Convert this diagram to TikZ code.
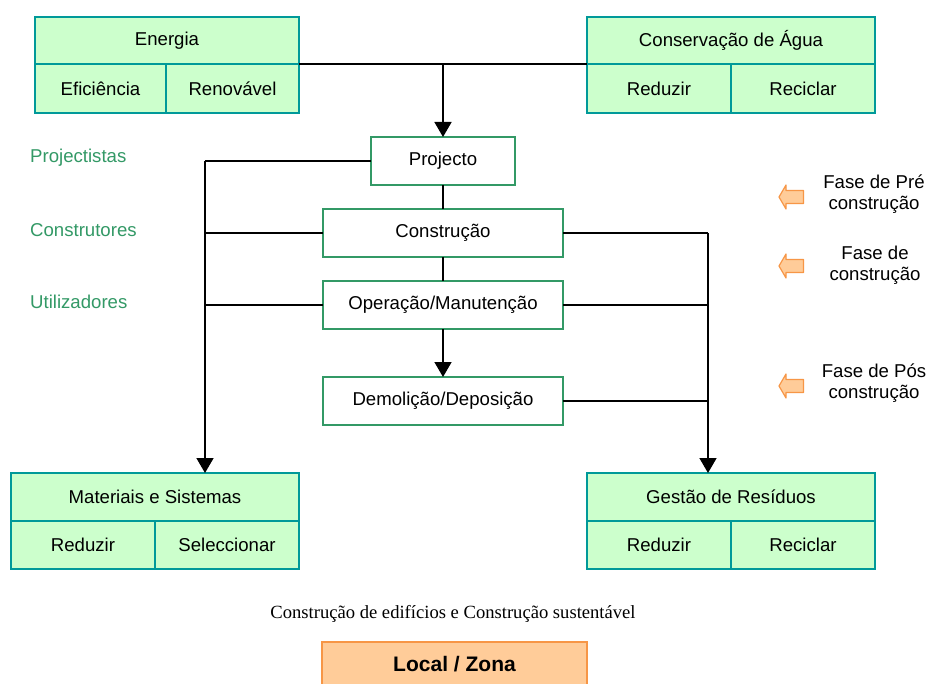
\documentclass[tikz,border=0pt]{standalone}
\usepackage{fontspec}
\setmainfont{Liberation Sans}
\newfontfamily\captionserif{Liberation Serif}
\usetikzlibrary{arrows.meta}
\definecolor{mint}{RGB}{204,255,204}
\definecolor{tealborder}{RGB}{0,153,153}
\definecolor{seagreen}{RGB}{51,153,102}
\definecolor{peach}{RGB}{255,204,153}
\definecolor{orangeline}{RGB}{247,150,70}
\tikzset{
  cell/.style={draw=tealborder, fill=mint, line width=1.6pt, inner sep=0pt, outer sep=0pt,
    font=\fontsize{18.6}{22}\selectfont},
  stage/.style={draw=seagreen, fill=white, line width=1.6pt, inner sep=0pt, outer sep=0pt,
    minimum height=48pt, font=\fontsize{18.6}{22}\selectfont},
  actor/.style={text=seagreen, anchor=west, inner sep=0pt, font=\fontsize{18.6}{22}\selectfont},
  phase/.style={align=center, inner sep=0pt, font=\fontsize{18.6}{21.5}\selectfont},
  link/.style={line width=1.6pt, black},
  flow/.style={link, -{Triangle[width=17pt,length=15pt]}},
  phasearrow/.style={draw=orangeline, fill=peach, line width=1.2pt, line join=round}
}
\begin{document}
\begin{tikzpicture}[x=1pt,y=-1pt]
\clip (0,0) rectangle (928,684);
\fill[white] (0,0) rectangle (928,684);

% Energia
\node[cell, minimum width=264pt, minimum height=47pt] (energia) at (167,40.5) {Energia};
\node[cell, minimum width=131pt, minimum height=49pt] (energiaL) at (100.5,88.5) {Eficiência};
\node[cell, minimum width=133pt, minimum height=49pt] (energiaR) at (232.5,88.5) {Renovável};

% Conservação de Água
\node[cell, minimum width=288pt, minimum height=47pt] (agua) at (731,40.5) {Conservação de Água};
\node[cell, minimum width=144pt, minimum height=49pt] (aguaL) at (659,88.5) {Reduzir};
\node[cell, minimum width=144pt, minimum height=49pt] (aguaR) at (803,88.5) {Reciclar};

% Materiais e Sistemas
\node[cell, minimum width=288pt, minimum height=48pt] (mat) at (155,497) {Materiais e Sistemas};
\node[cell, minimum width=144pt, minimum height=48pt] (matL) at (83,545) {Reduzir};
\node[cell, minimum width=144pt, minimum height=48pt] (matR) at (227,545) {Seleccionar};

% Gestão de Resíduos
\node[cell, minimum width=288pt, minimum height=48pt] (gest) at (731,497) {Gestão de Resíduos};
\node[cell, minimum width=144pt, minimum height=48pt] (gestL) at (659,545) {Reduzir};
\node[cell, minimum width=144pt, minimum height=48pt] (gestR) at (803,545) {Reciclar};

% Life-cycle stages
\node[stage, minimum width=144pt] (proj) at (443,161) {Projecto};
\node[stage, minimum width=240pt] (constr) at (443,233) {Construção};
\node[stage, minimum width=240pt] (oper) at (443,305) {Operação/Manutenção};
\node[stage, minimum width=240pt] (demol) at (443,401) {Demolição/Deposição};

% Actors
\node[actor] (a1) at (30,158) {Projectistas};
\node[actor] (a2) at (30,230) {Construtores};
\node[actor] (a3) at (30,302) {Utilizadores};

% Junctions
\coordinate (top) at (443,64);
\coordinate (lbus) at (205,161);
\coordinate (rbus) at (708,233);

% Connectors
\draw[link] (energiaR.north east) -- (aguaL.north west);
\draw[flow] (top) -- (proj.north);
\draw[link] (proj.south) -- (constr.north);
\draw[link] (constr.south) -- (oper.north);
\draw[flow] (oper.south) -- (demol.north);

\draw[link] (proj.west) -- (lbus);
\draw[flow] (lbus) -- (lbus |- mat.north);
\draw[link] (constr.west) -- (lbus |- constr.west);
\draw[link] (oper.west) -- (lbus |- oper.west);

\draw[link] (constr.east) -- (rbus);
\draw[flow] (rbus) -- (rbus |- gest.north);
\draw[link] (oper.east) -- (rbus |- oper.east);
\draw[link] (demol.east) -- (rbus |- demol.east);

% Phase markers
\foreach \yy in {197,266,386} {
  \draw[phasearrow] (779,\yy) -- (786,\yy-12) -- (786,\yy-6.5) -- (803.5,\yy-6.5)
    -- (803.5,\yy+6.5) -- (786,\yy+6.5) -- (786,\yy+12) -- cycle;
}
\node[phase] (p1) at (874,194) {Fase de Pré\\construção};
\node[phase] (p2) at (875,265) {Fase de\\construção};
\node[phase] (p3) at (874,383) {Fase de Pós\\construção};

% Caption and site box
\node[inner sep=0pt, font=\captionserif\fontsize{18.6}{22}\selectfont] (cap) at (453,614) {Construção de edifícios e Construção sustentável};
\node[draw=orangeline, fill=peach, line width=1.6pt, minimum width=265pt, minimum height=60pt,
  inner sep=0pt, anchor=north] (local) at (454.5,641) {};
\node[inner sep=0pt, font=\bfseries\fontsize{21}{25}\selectfont] (localtxt) at (454.5,664) {Local / Zona};
\end{tikzpicture}
\end{document}
